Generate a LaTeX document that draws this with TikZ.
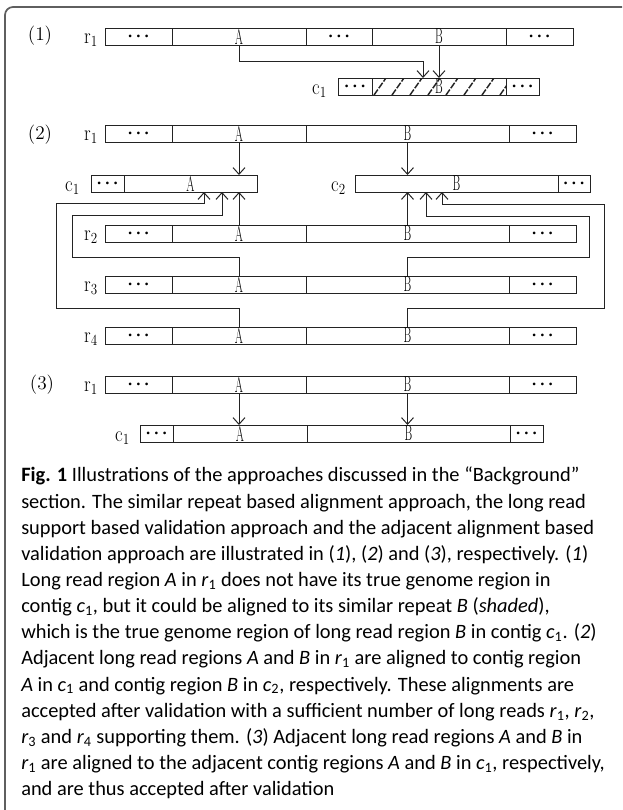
\documentclass[tikz,border=0pt]{standalone}
\usepackage{fontspec}
\usepackage{amsmath}
\usepackage{graphicx}
\newfontfamily\capfont{Carlito}
\usetikzlibrary{arrows.meta}
\definecolor{linec}{RGB}{35,35,35}
\definecolor{framec}{RGB}{95,95,95}
\newcommand{\dl}[1]{{\fontsize{16}{16}\selectfont\scalebox{0.55}[1]{#1}}}
\newcommand{\dts}{{\fontsize{7}{7}\selectfont\textbullet\textbullet\textbullet}}
\newcommand{\rl}[2]{{\fontsize{16.5}{16.5}\selectfont\scalebox{0.85}[1]{#1\textsubscript{#2}}}}
\newcommand{\cellnode}[5]{\node[cellbox, minimum width={(#3-#2)*0.75pt}, anchor=north west] (#1) at (#2,#4) {#5};}
\newcommand{\readrow}[2]{%
  \cellnode{#1d1}{105}{172}{#2}{\dts}
  \cellnode{#1A}{172}{306}{#2}{\dl{A}}
  \cellnode{#1B}{306}{509}{#2}{\dl{B}}
  \cellnode{#1d2}{509}{576}{#2}{\dts}}
\begin{document}
\begin{tikzpicture}[x=0.75pt,y=-0.75pt,
  cellbox/.style={draw=linec, line width=0.75pt, inner sep=0pt, outer sep=0pt, minimum height=12.75pt},
  conn/.style={draw=linec, line width=0.75pt},
  arr/.style={conn, -{Straight Barb[length=5pt,width=9pt]}},
  hatch/.style={draw=linec, line width=1.1pt, dash pattern=on 5pt off 1.2pt},
  rlab/.style={anchor=base east, inner sep=0pt},
  plab/.style={inner sep=0pt, font=\fontsize{14.5}{14.5}\selectfont}]
\useasboundingbox (0,0) rectangle (622,810);
\clip (0,0) rectangle (622,810);
\draw[draw=framec, line width=1.3pt, rounded corners=6pt] (5,7) rectangle (680,880);

% ---------- (1)
\node[plab] (lab1) at (40,36) {(1)};
\node[rlab] (l1r1) at (98,43) {\rl{r}{1}};
\cellnode{aRd1}{105}{172}{28}{\dts}
\cellnode{aRA}{172}{306}{28}{\dl{A}}
\cellnode{aRd2}{306}{372}{28}{\dts}
\cellnode{aRB}{372}{506}{28}{\dl{B}}
\cellnode{aRd3}{506}{573}{28}{\dts}
\node[rlab] (l1c1) at (327,94) {\rl{c}{1}};
\begin{scope}
\clip (372,78) rectangle (506,95);
\foreach \hx in {374,392,...,500} \draw[hatch] (\hx,95) -- (\hx+12,78);
\end{scope}
\cellnode{aCd1}{338}{372}{78}{\dts}
\cellnode{aCB}{372}{506}{78}{\dl{B}}
\cellnode{aCd2}{506}{539}{78}{\dts}
\coordinate (aTA) at (423,78);
\draw[arr] (aRA.south) -- ++(0,16) -| (aTA);
\draw[arr] (aRB.south) -- (aRB.south |- aCB.north);

% ---------- (2)
\node[plab] (lab2) at (40,135) {(2)};
\node[rlab] (l2r1) at (98,140) {\rl{r}{1}};
\readrow{bR}{125}
\node[rlab] (l2c1) at (80,191) {\rl{c}{1}};
\cellnode{bCd1}{91}{124}{175}{\dts}
\cellnode{bCA}{124}{257}{175}{\dl{A}}
\node[rlab] (l2c2) at (346,191) {\rl{c}{2}};
\cellnode{bDB}{355}{558}{175}{\dl{B}}
\cellnode{bDd1}{558}{590}{175}{\dts}
\node[rlab] (l2r2) at (98,240) {\rl{r}{2}};
\readrow{bS}{225}
\node[rlab] (l2r3) at (98,291) {\rl{r}{3}};
\readrow{bT}{276}
\node[rlab] (l2r4) at (98,342) {\rl{r}{4}};
\readrow{bU}{327}

\draw[arr] (bRA.south) -- (bRA.south |- bCA.north);
\draw[arr] (bRB.south) -- (bRB.south |- bDB.north);
\draw[arr] (bSA.north) -- (bSA.north |- bCA.south);
\draw[arr] (bSB.north) -- (bSB.north |- bDB.south);
\coordinate (bTin) at (222,192);
\coordinate (bUin) at (204,192);
\coordinate (bTinR) at (426,192);
\coordinate (bUinR) at (442,192);
\draw[arr] (bTA.north) -- ++(0,-19) -| (72,215) -| (bTin);
\draw[arr] (bTB.north) -- ++(0,-19) -| (589,216) -| (bTinR);
\draw[arr] (bUA.north) -- ++(0,-19) -| (56,203) -| (bUin);
\draw[arr] (bUB.north) -- ++(0,-19) -| (604,204) -| (bUinR);

% ---------- (3)
\node[plab] (lab3) at (42,385) {(3)};
\node[rlab] (l3r1) at (98,391) {\rl{r}{1}};
\readrow{cR}{376}
\node[rlab] (l3c1) at (130,441) {\rl{c}{1}};
\cellnode{cCd1}{140}{173}{425}{\dts}
\cellnode{cCA}{173}{307}{425}{\dl{A}}
\cellnode{cCB}{307}{510}{425}{\dl{B}}
\cellnode{cCd2}{510}{543}{425}{\dts}
\draw[arr] (cRA.south) -- (cRA.south |- cCA.north);
\draw[arr] (cRB.south) -- (cRB.south |- cCB.north);

% ---------- caption
\node[anchor=north west, align=left, inner sep=0pt, font={\capfont\fontsize{15.3}{19.6}\selectfont}] (caption) at (21,467) {%
\textbf{Fig. 1} Illustrations of the approaches discussed in the “Background”\\
section. The similar repeat based alignment approach, the long read\\
support based validation approach and the adjacent alignment based\\
validation approach are illustrated in (\textit{1}), (\textit{2}) and (\textit{3}), respectively. (\textit{1})\\
Long read region \textit{A} in \textit{r}\textsubscript{1} does not have its true genome region in\\
contig \textit{c}\textsubscript{1}, but it could be aligned to its similar repeat \textit{B} (\textit{shaded}),\\
which is the true genome region of long read region \textit{B} in contig \textit{c}\textsubscript{1}. (\textit{2})\\
Adjacent long read regions \textit{A} and \textit{B} in \textit{r}\textsubscript{1} are aligned to contig region\\
\textit{A} in \textit{c}\textsubscript{1} and contig region \textit{B} in \textit{c}\textsubscript{2}, respectively. These alignments are\\
accepted after validation with a sufficient number of long reads \textit{r}\textsubscript{1}, \textit{r}\textsubscript{2},\\
\textit{r}\textsubscript{3} and \textit{r}\textsubscript{4} supporting them. (\textit{3}) Adjacent long read regions \textit{A} and \textit{B} in\\
\textit{r}\textsubscript{1} are aligned to the adjacent contig regions \textit{A} and \textit{B} in \textit{c}\textsubscript{1}, respectively,\\
and are thus accepted after validation};
\end{tikzpicture}
\end{document}
